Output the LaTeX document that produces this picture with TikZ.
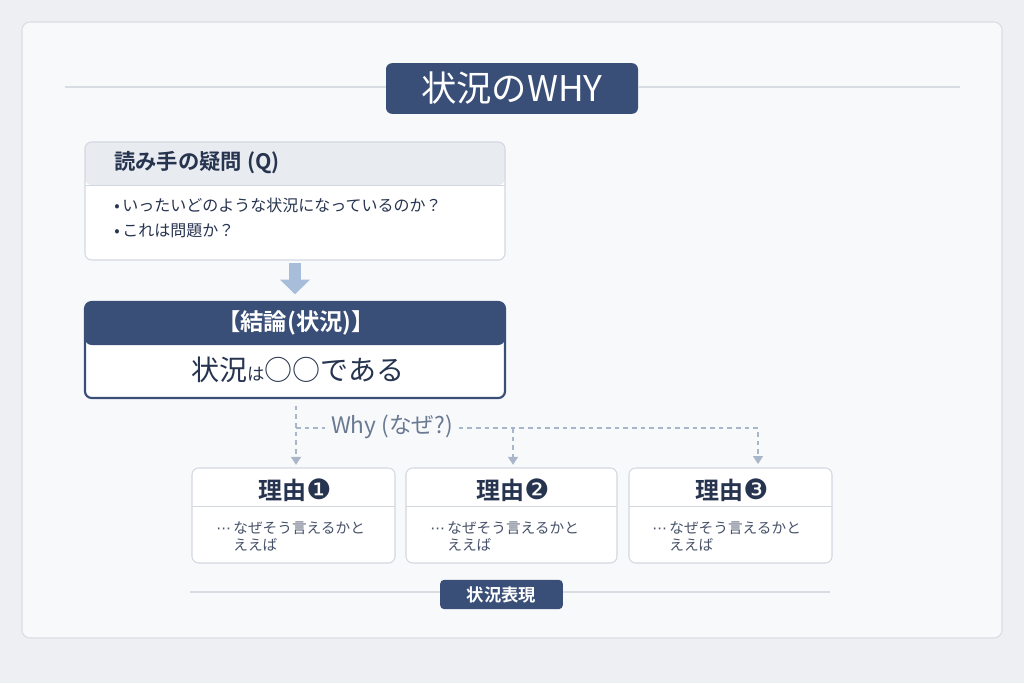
\documentclass[tikz,border=0pt]{standalone}
\usepackage{fontspec}
\setmainfont{Noto Sans CJK JP}[BoldFont={Noto Sans CJK JP Bold}]
\newfontfamily\dingfont{DejaVu Sans}
\usetikzlibrary{arrows.meta}

\definecolor{page_bg}{HTML}{EDEFF3}
\definecolor{card_bg}{HTML}{F8F9FB}
\definecolor{card_line}{HTML}{D9DDE4}
\definecolor{navy}{HTML}{3A4F78}
\definecolor{ink}{HTML}{27344F}
\definecolor{head_gray}{HTML}{E8EBF0}
\definecolor{box_line}{HTML}{D3D8E0}
\definecolor{rule_gray}{HTML}{D8DCE3}
\definecolor{why_gray}{HTML}{6A7A93}
\definecolor{dash_blue}{HTML}{A9B6CA}
\definecolor{arrow_blue}{HTML}{A8BDD9}

\begin{document}
\begin{tikzpicture}[x=0.75pt,y=-0.75pt]

	\tikzstyle{title_box}=[rectangle, rounded corners=4.5pt, fill=navy, text=white, minimum width=189pt, minimum height=38pt, inner sep=0pt, font=\fontsize{26.5}{28}\selectfont]
	\tikzstyle{tag_box}=[rectangle, rounded corners=3pt, fill=navy, text=white, minimum width=92pt, minimum height=22pt, inner sep=0pt, font=\bfseries\fontsize{13}{15}\selectfont]
	\tikzstyle{q_box}=[rectangle, rounded corners=5pt, fill=white, draw=box_line, line width=0.8pt, minimum width=315pt, minimum height=88.5pt, inner sep=0pt]
	\tikzstyle{concl_box}=[rectangle, rounded corners=5pt, fill=white, draw=navy, line width=1.6pt, minimum width=315pt, minimum height=72pt, inner sep=0pt]
	\tikzstyle{reason_box}=[rectangle, rounded corners=5pt, fill=white, draw=box_line, line width=0.8pt, minimum height=71.25pt, inner sep=0pt]
	\tikzstyle{head_text}=[text=ink, anchor=west, inner sep=0pt, font=\bfseries\fontsize{16}{18}\selectfont]
	\tikzstyle{bullet_text}=[text=ink, anchor=west, inner sep=0pt, font=\fontsize{12}{14}\selectfont]
	\tikzstyle{reason_head}=[text=ink, inner sep=0pt, font=\bfseries\fontsize{18}{20}\selectfont]
	\tikzstyle{reason_text}=[text=ink!85, anchor=west, align=left, inner sep=0pt, font=\fontsize{11}{13}\selectfont]
	\tikzstyle{rule}=[draw=rule_gray, line width=0.8pt]
	\tikzstyle{why_line}=[draw=dash_blue, line width=1.1pt, dash pattern=on 3.5pt off 3pt]
	\tikzstyle{why_arrow}=[why_line, -{Triangle[width=7.5pt,length=6pt]}]

	% Page and card
	\fill[page_bg] (0,0) rectangle (1024,683);
	\useasboundingbox (0,0) rectangle (1024,683);
	\fill[black!6, rounded corners=6pt] (23,24) rectangle (1003,640);
	\draw[fill=card_bg, draw=card_line, line width=0.8pt, rounded corners=6pt] (22,22) rectangle (1002,638);

	% Title
	\node[title_box] (title) at (512,88.5) {状況のWHY};
	\coordinate (title_rule_l) at (65,87);
	\coordinate (title_rule_r) at (960,87);
	\draw[rule] (title_rule_l) -- (title_rule_l -| title.west);
	\draw[rule] (title.east |- title_rule_r) -- (title_rule_r);

	% Reader's question
	\node[q_box, path picture={
		\fill[head_gray] (path picture bounding box.north west) rectangle ([yshift=-32.25pt]path picture bounding box.north east);
		\draw[box_line, line width=0.6pt] ([yshift=-32.25pt]path picture bounding box.north west) -- ([yshift=-32.25pt]path picture bounding box.north east);
	}] (question) at (295,201) {};
	\node[head_text] (question_head) at (114,163) {読み手の疑問 (Q)};
	\node[bullet_text] (question_one) at (114,205) {•\,いったいどのような状況になっているのか？};
	\node[bullet_text] (question_two) at (114,231) {•\,これは問題か？};

	% Conclusion
	\node[concl_box, path picture={
		\fill[navy] (path picture bounding box.north west) rectangle ([yshift=-32.25pt]path picture bounding box.north east);
	}] (conclusion) at (295,350) {};
	\node[text=white, inner sep=0pt, font=\bfseries\fontsize{17.5}{19}\selectfont] (conclusion_head) at (296,323) {【結論(状況)】};
	\node[text=ink, inner sep=0pt, font=\fontsize{21}{23}\selectfont] (conclusion_text) at (298,370) {状況{\fontsize{13}{15}\selectfont は}○○である};

	\draw[arrow_blue, line width=9pt, -{Triangle[width=22pt,length=11pt]}, shorten <=1.5pt, shorten >=5pt] (question.south) -- (conclusion.north);

	% Reasons
	\node[reason_box, minimum width=152.25pt, path picture={
		\draw[box_line, line width=0.6pt] ([yshift=-28.5pt]path picture bounding box.north west) -- ([yshift=-28.5pt]path picture bounding box.north east);
	}] (reason_one) at (293.5,515.5) {};
	\node[reason_box, minimum width=158.25pt, path picture={
		\draw[box_line, line width=0.6pt] ([yshift=-28.5pt]path picture bounding box.north west) -- ([yshift=-28.5pt]path picture bounding box.north east);
	}] (reason_two) at (511.5,515.5) {};
	\node[reason_box, minimum width=152.25pt, path picture={
		\draw[box_line, line width=0.6pt] ([yshift=-28.5pt]path picture bounding box.north west) -- ([yshift=-28.5pt]path picture bounding box.north east);
	}] (reason_three) at (730.5,515.5) {};

	\node[reason_head] (reason_one_head) at (295,490) {理由{\dingfont\mdseries\fontsize{21}{22}\selectfont ❶}};
	\node[reason_head] (reason_two_head) at (513,490) {理由{\dingfont\mdseries\fontsize{21}{22}\selectfont ❷}};
	\node[reason_head] (reason_three_head) at (732,490) {理由{\dingfont\mdseries\fontsize{21}{22}\selectfont ❸}};

	\node[reason_text] (reason_one_text) at (216,536.5) {{\dingfont ⋯}\,なぜそう言えるかと\\\phantom{{\dingfont ⋯}\,}ええば};
	\node[reason_text] (reason_two_text) at (430,536.5) {{\dingfont ⋯}\,なぜそう言えるかと\\\phantom{{\dingfont ⋯}\,}ええば};
	\node[reason_text] (reason_three_text) at (652,536.5) {{\dingfont ⋯}\,なぜそう言えるかと\\\phantom{{\dingfont ⋯}\,}ええば};

	% Why connectors
	\node[text=why_gray, inner sep=4pt, font=\fontsize{17}{19}\selectfont] (why_label) at (392,427) {Why (なぜ?)};
	\coordinate (why_split) at (296,428);
	\coordinate (reason_three_in) at (758,466);
	\draw[why_arrow, shorten <=5pt, shorten >=2pt] (conclusion.south -| why_split) -- (reason_one.north -| why_split);
	\draw[why_line] (why_split) -- (why_label.west |- why_split);
	\draw[why_arrow, shorten >=1.5pt] (why_label.east |- why_split) -| (reason_three_in);
	\draw[why_arrow, shorten >=2pt] (why_split -| 513,0) -- (reason_two.north -| 513,0);

	% Bottom tag
	\node[tag_box] (situation_tag) at (501.5,594.5) {状況表現};
	\coordinate (tag_rule_l) at (190,592);
	\coordinate (tag_rule_r) at (830,592);
	\draw[rule] (tag_rule_l) -- (tag_rule_l -| situation_tag.west);
	\draw[rule] (situation_tag.east |- tag_rule_r) -- (tag_rule_r);

\end{tikzpicture}
\end{document}
